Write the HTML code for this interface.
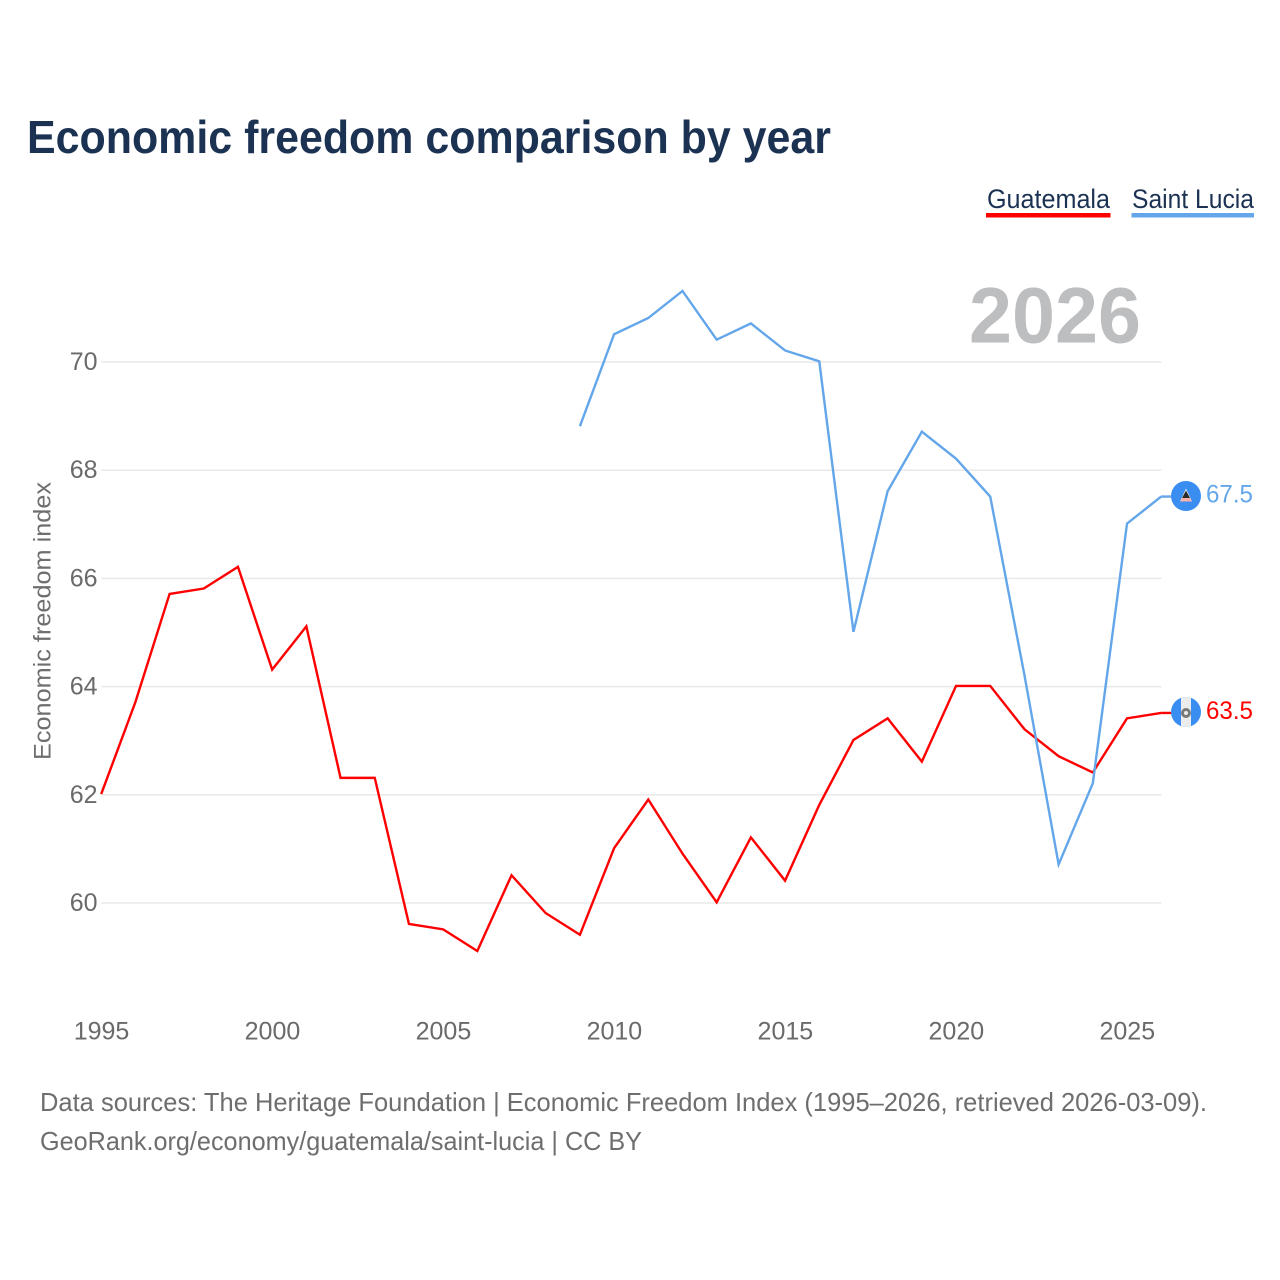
<!DOCTYPE html>
<html lang="en">
<head>
<meta charset="utf-8">
<title>Economic freedom comparison by year</title>
<style>
  html, body { margin: 0; padding: 0; background: #fff; }
  svg { display: block; }
  text { font-family: "Liberation Sans", sans-serif; }
</style>
</head>
<body>
<svg id="chart" xmlns="http://www.w3.org/2000/svg" width="1280" height="1280" viewBox="0 0 1280 1280">
  <rect width="1280" height="1280" fill="#ffffff"/>
  <text x="27" y="153" font-size="46" font-weight="700" fill="#1b3252" textLength="804" lengthAdjust="spacingAndGlyphs">Economic freedom comparison by year</text>

  <g>
    <text x="987" y="208" font-size="27" fill="#1b3252" textLength="123" lengthAdjust="spacingAndGlyphs">Guatemala</text>
    <rect x="986" y="213" width="124.500" height="4.500" fill="#ff0000"/>
  </g>
  <g>
    <text x="1132" y="208" font-size="27" fill="#1b3252" textLength="122" lengthAdjust="spacingAndGlyphs">Saint Lucia</text>
    <rect x="1131.500" y="213" width="122.500" height="4.500" fill="#63a6ea"/>
  </g>

  <text x="969" y="342.500" font-size="79" font-weight="700" fill="#bdbec0" textLength="172" lengthAdjust="spacingAndGlyphs">2026</text>

  <g id="grid"></g>
  <g id="y-ticks"></g>
  <g id="x-ticks"></g>

  <text transform="translate(50.500 760) rotate(-90)" font-size="24.500" fill="#6e6e6e" textLength="278" lengthAdjust="spacingAndGlyphs">Economic freedom index</text>

  <g id="series" transform="translate(-0.300 -0.700)"></g>

  <defs>
    <clipPath id="gt-clip"><circle cx="1186" cy="712" r="15"/></clipPath>
  </defs>
  <g>
    <circle cx="1186" cy="496" r="15" fill="#3a8ef2"/>
    <polygon points="1186,488.500 1192,501.500 1180,501.500" fill="#f2f2f2"/>
    <polygon points="1186,490.500 1190,498 1182,498" fill="#2b2b2b"/>
    <polygon points="1182,498 1190,498 1192,501.500 1180,501.500" fill="#f7b0aa"/>
  </g>
  <g clip-path="url(#gt-clip)">
    <rect x="1171" y="697" width="30" height="30" fill="#3a8ef2"/>
    <rect x="1181" y="697" width="10" height="30" fill="#ececec"/>
    <circle cx="1186" cy="713" r="3.500" fill="none" stroke="#7a7a7a" stroke-width="3"/>
  </g>

  <text id="end-label-saint-lucia" x="1206" y="502.500" font-size="25" fill="#63a6ea" textLength="47" lengthAdjust="spacingAndGlyphs">67.5</text>
  <text id="end-label-guatemala" x="1206" y="719" font-size="25" fill="#ff0000" textLength="47" lengthAdjust="spacingAndGlyphs">63.5</text>

  <text x="40" y="1111" font-size="26" fill="#6e6e6e" textLength="1167" lengthAdjust="spacingAndGlyphs">Data sources: The Heritage Foundation | Economic Freedom Index (1995–2026, retrieved 2026-03-09).</text>
  <text x="40" y="1150" font-size="26" fill="#6e6e6e" textLength="602" lengthAdjust="spacingAndGlyphs">GeoRank.org/economy/guatemala/saint-lucia | CC BY</text>
</svg>

<script>
const guatemalaYears = [1995,1996,1997,1998,1999,2000,2001,2002,2003,2004,2005,2006,2007,2008,2009,2010,2011,2012,2013,2014,2015,2016,2017,2018,2019,2020,2021,2022,2023,2024,2025,2026];
const guatemalaValues = [62,63.7,65.7,65.8,66.2,64.3,65.1,62.3,62.3,59.6,59.5,59.1,60.5,59.8,59.4,61,61.9,60.9,60,61.2,60.4,61.8,63,63.4,62.6,64,64,63.2,62.7,62.4,63.4,63.5];
const saintLuciaYears = [2009,2010,2011,2012,2013,2014,2015,2016,2017,2018,2019,2020,2021,2022,2023,2024,2025,2026];
const saintLuciaValues = [68.8,70.5,70.8,71.3,70.4,70.7,70.2,70,65,67.6,68.7,68.2,67.5,64.2,60.7,62.2,67,67.5];
const yTicks = [60,62,64,66,68,70];
const xTicks = [1995,2000,2005,2010,2015,2020,2025];

const SVG_NS = 'http://www.w3.org/2000/svg';
function xScale(year) { return 101.5 + (year - 1995) * (1060 / 31); }
function yScale(value) { return 903 - (value - 60) * 54.1; }

const grid = document.getElementById('grid');
const yTickGroup = document.getElementById('y-ticks');
const xTickGroup = document.getElementById('x-ticks');
const seriesGroup = document.getElementById('series');

yTicks.forEach(function (tick) {
  const line = document.createElementNS(SVG_NS, 'line');
  
  
  line.setAttribute('x1', xScale(1995));
  line.setAttribute('x2', xScale(2026));
  line.setAttribute('y1', yScale(tick));
  line.setAttribute('y2', yScale(tick));
  line.setAttribute('stroke', '#e9e9e9');
  line.setAttribute('stroke-width', '1.500');
  grid.appendChild(line);

  const label = document.createElementNS(SVG_NS, 'text');
  
  
  label.setAttribute('x', 97.5);
  label.setAttribute('y', yScale(tick) + 8);
  label.setAttribute('text-anchor', 'end');
  label.setAttribute('font-size', '25');
  label.setAttribute('fill', '#6a6a6a');
  label.textContent = String(tick);
  yTickGroup.appendChild(label);
});

xTicks.forEach(function (tick) {
  const label = document.createElementNS(SVG_NS, 'text');
  
  
  label.setAttribute('x', xScale(tick));
  label.setAttribute('y', 1039.5);
  label.setAttribute('text-anchor', 'middle');
  label.setAttribute('font-size', '25');
  label.setAttribute('fill', '#6a6a6a');
  label.textContent = String(tick);
  xTickGroup.appendChild(label);
});

function pointsFor(years, values) {
  return years.map(function (year, i) {
    return xScale(year).toFixed(2) + ',' + yScale(values[i]).toFixed(2);
  }).join(' ');
}

const guatemalaLine = document.createElementNS(SVG_NS, 'polyline');


guatemalaLine.setAttribute('points', pointsFor(guatemalaYears, guatemalaValues));
guatemalaLine.setAttribute('fill', 'none');
guatemalaLine.setAttribute('stroke', '#ff0000');
guatemalaLine.setAttribute('stroke-width', '2.400');
seriesGroup.appendChild(guatemalaLine);

const saintLuciaLine = document.createElementNS(SVG_NS, 'polyline');


saintLuciaLine.setAttribute('points', pointsFor(saintLuciaYears, saintLuciaValues));
saintLuciaLine.setAttribute('fill', 'none');
saintLuciaLine.setAttribute('stroke', '#63a6ea');
saintLuciaLine.setAttribute('stroke-width', '2.400');
seriesGroup.appendChild(saintLuciaLine);

function addConnector(name, values, color) {
  const last = values[values.length - 1];
  const connector = document.createElementNS(SVG_NS, 'line');
  
  
  connector.setAttribute('x1', xScale(2026));
  connector.setAttribute('x2', xScale(2026) + 10);
  connector.setAttribute('y1', yScale(last));
  connector.setAttribute('y2', yScale(last));
  connector.setAttribute('stroke', color);
  connector.setAttribute('stroke-width', '2.400');
  seriesGroup.appendChild(connector);
}
addConnector('connector-guatemala', guatemalaValues, '#ff0000');
addConnector('connector-saint-lucia', saintLuciaValues, '#63a6ea');

document.getElementById('end-label-guatemala').textContent = guatemalaValues[guatemalaValues.length - 1].toFixed(1);
document.getElementById('end-label-saint-lucia').textContent = saintLuciaValues[saintLuciaValues.length - 1].toFixed(1);
</script>
</body>
</html>
